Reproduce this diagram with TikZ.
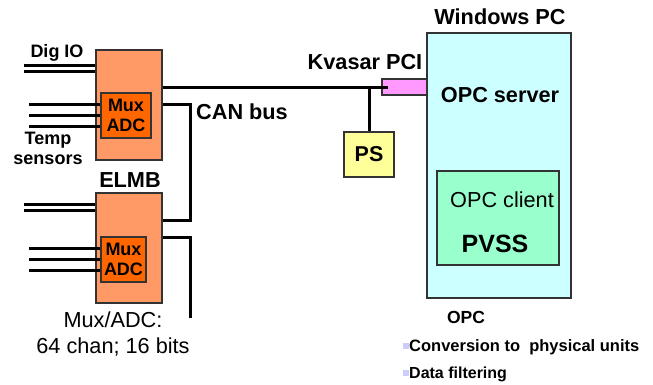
\documentclass[tikz,border=0pt]{standalone}
\usepackage{fontspec}
\setmainfont{Liberation Sans}
\usepackage{tikz}
\usetikzlibrary{positioning}
\definecolor{elmbfill}{HTML}{FF9966}
\definecolor{muxfill}{HTML}{FF6600}
\definecolor{pcifill}{HTML}{FF99FF}
\definecolor{psfill}{HTML}{FFFF99}
\definecolor{pcfill}{HTML}{CCFFFF}
\definecolor{clientfill}{HTML}{99FFCC}
\definecolor{edge}{HTML}{333333}
\definecolor{bullet}{HTML}{CCCCFF}
\newcommand{\fs}[1]{\fontsize{#1}{#1}\selectfont}
\newcommand{\sqbullet}{\textcolor{bullet}{\rule[2pt]{6pt}{6pt}}}
\tikzstyle{box} = [rectangle, draw=edge, line width=1.2pt, inner sep=0pt, text centered]
\tikzstyle{elmb} = [box, fill=elmbfill, minimum width=66pt, minimum height=110pt]
\tikzstyle{mux} = [box, fill=muxfill, minimum height=45pt, align=center, font=\bfseries\fs{18}]
\tikzstyle{lbl} = [inner sep=0pt, align=center, font=\bfseries\fs{18}]
\tikzstyle{big} = [inner sep=0pt, align=center, font=\bfseries\fs{21.7}]
\tikzstyle{wire} = [line width=3pt, black]

\begin{document}
\begin{tikzpicture}[x=1pt, y=-1pt]
		\useasboundingbox (0,0) rectangle (653,385);
		\node (pc) [box, fill=pcfill, minimum width=144pt, minimum height=265pt] at (499,165.5) {};
		\node (client) [box, fill=clientfill, minimum width=122pt, minimum height=94pt] at (498,218) {};
		\node (pci) [box, fill=pcifill, minimum width=45pt, minimum height=16pt] at (404.5,87) {};
		\node (ps) [box, fill=psfill, minimum width=50pt, minimum height=45pt, font=\bfseries\fs{21.5}] at (369,154.5) {PS};
		\node (elmbA) [elmb] at (129,105) {};
		\node (muxA) [mux, minimum width=50pt] at (126,115.5) {Mux\\[2pt]ADC};
		\node (elmbB) [elmb] at (129,248) {};
		\node (muxB) [mux, minimum width=45pt] at (123.5,259.5) {Mux\\[2pt]ADC};

		\node (dig) [lbl] at (57,53) {Dig IO};
		\node (temp) [lbl] at (48,148) {Temp\\[2pt]sensors};
		\node (elmbtxt) [big] at (130,180) {ELMB};
		\node (spec) [inner sep=0pt, align=center, font=\fs{21.7}] at (113,334) {Mux/ADC:\\[4pt]64 chan; 16 bits};
		\node (can) [big] at (242,112) {CAN bus};
		\node (kvasar) [big] at (365,62) {Kvasar PCI};
		\node (winpc) [big] at (500,17) {Windows PC};
		\node (server) [big] at (500,95) {OPC server};
		\node (clienttxt) [inner sep=0pt, font=\fs{21.7}] at (502,200) {OPC client};
		\node (pvss) [inner sep=0pt, font=\bfseries\fs{25}] at (495,244) {PVSS};
		\node (opc) [lbl, font=\bfseries\fs{17.5}] at (466,317) {OPC};
		\node (conv) [inner sep=0pt, anchor=west, font=\bfseries\fs{16.5}] at (403,347) {\sqbullet Conversion to~ physical units};
		\node (filt) [inner sep=0pt, anchor=west, font=\bfseries\fs{16}] at (403,374) {\sqbullet Data filtering};

		\coordinate (dA1) at (24,66);
		\coordinate (dA2) at (24,72);
		\coordinate (tA1) at (29,105);
		\coordinate (tA2) at (29,116);
		\coordinate (tA3) at (29,127);
		\coordinate (dB1) at (24,204);
		\coordinate (dB2) at (24,210);
		\coordinate (tB1) at (29,248);
		\coordinate (tB2) at (29,259);
		\coordinate (tB3) at (29,270);
		\coordinate (busend) at (388,88);
		\coordinate (lnkA) at (190,105);
		\coordinate (lnkB) at (190,220);
		\coordinate (outB) at (190,237);
		\coordinate (tail) at (190,318);

		\foreach \c in {dA1,dA2} \draw [wire] (\c) -- (\c -| elmbA.west);
		\foreach \c in {tA1,tA2,tA3} \draw [wire] (\c) -- (\c -| muxA.west);
		\foreach \c in {dB1,dB2} \draw [wire] (\c) -- (\c -| elmbB.west);
		\foreach \c in {tB1,tB2,tB3} \draw [wire] (\c) -- (\c -| muxB.west);
		\draw [wire] (busend -| elmbA.east) -- (busend);
		\draw [wire] (ps.north) -- (ps.north |- busend);
		\draw [wire] (lnkA -| elmbA.east) -- (lnkA) -- (lnkB) -- (lnkB -| elmbB.east);
		\draw [wire] (outB -| elmbB.east) -- (outB) -- (tail);
	\end{tikzpicture}
\end{document}
